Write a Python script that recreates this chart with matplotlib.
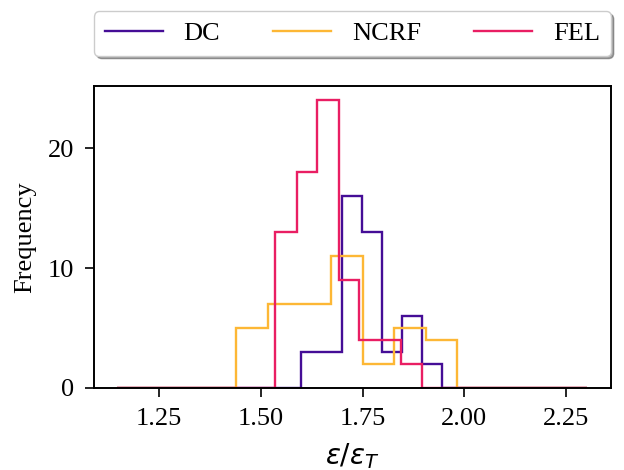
import matplotlib
matplotlib.use('Agg')
import matplotlib.pyplot as plt
from matplotlib.lines import Line2D

# bin edges and counts (outer zero bins span 1.148-2.302)
dc_edges = [1.148, 1.5986, 1.6487, 1.6987, 1.7476, 1.797, 1.846, 1.896, 1.946, 2.302]
dc_counts = [0, 3, 3, 16, 13, 3, 6, 2, 0]

ncrf_edges = [1.148, 1.4398, 1.517, 1.595, 1.6726, 1.75, 1.8275, 1.9056, 1.983, 2.302]
ncrf_counts = [0, 5, 7, 7, 11, 2, 5, 4, 0]

fel_edges = [1.148, 1.536, 1.588, 1.639, 1.691, 1.741, 1.793, 1.8445, 1.896, 2.302]
fel_counts = [0, 13, 18, 24, 9, 4, 4, 2, 0]

labels = ['DC', 'NCRF', 'FEL']
colors = ['#450d96', '#fdb735', '#e91e63']

plt.rcParams['font.family'] = ['Liberation Serif', 'DejaVu Serif']
plt.rcParams['mathtext.fontset'] = 'dejavusans'
plt.rcParams['font.size'] = 19

fig = plt.figure(figsize=(6.24, 4.70), dpi=100)
ax = fig.add_axes([0.1506, 0.1745, 0.8284, 0.6425])

for edges, counts, lab, col in zip([dc_edges, ncrf_edges, fel_edges],
                                   [dc_counts, ncrf_counts, fel_counts],
                                   labels, colors):
	ax.stairs(counts, edges, color=col, linewidth=1.7, label=lab)

ax.set_xticks([1.25, 1.50, 1.75, 2.00, 2.25])
ax.set_yticks([0, 10, 20])
ax.set_xlabel(r'$\epsilon/\epsilon_T$', fontsize=20, labelpad=8)
ax.set_ylabel('Frequency', labelpad=8)
ax.tick_params(length=6.5, width=1.2, pad=8)
for s in ax.spines.values():
	s.set_linewidth(1.4)

handles = [Line2D([], [], color=c, linewidth=1.7) for c in colors]
ax.legend(handles, labels, loc='lower left', bbox_to_anchor=(0, 1.1, 1, 0.1),
          mode='expand', ncol=3, shadow=True, fancybox=True,
          borderaxespad=0, handlelength=2.2)

fig.savefig('out.png', dpi=100)
